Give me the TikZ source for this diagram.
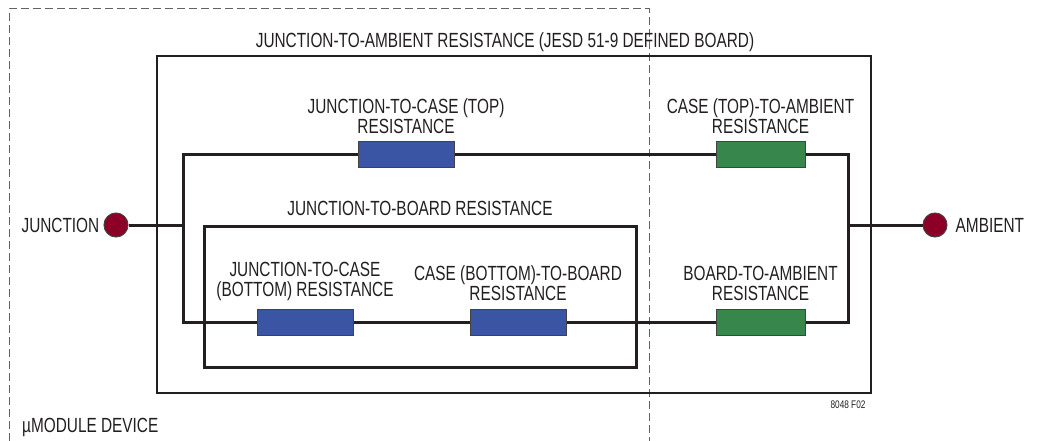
\documentclass[tikz,border=0pt]{standalone}
\usepackage{fontspec}
\setmainfont{Liberation Sans}[FakeStretch=0.75]
\usetikzlibrary{positioning}
\definecolor{ink}{HTML}{231F20}
\definecolor{resblue}{HTML}{3A55A4}
\definecolor{resgreen}{HTML}{37864C}
\definecolor{termred}{HTML}{8C0027}
\tikzset{
	wire/.style={ink,line width=3pt},
	res/.style={draw=ink!85,line width=1pt,minimum height=26pt,inner sep=0pt},
	rblue/.style={res,fill=resblue,minimum width=96pt},
	rgreen/.style={res,fill=resgreen,minimum width=89pt},
	term/.style={circle,draw=ink!85,line width=1pt,fill=termred,minimum size=24pt,inner sep=0pt},
	lbl/.style={text=ink,font=\fontsize{20.5}{20}\selectfont,align=center,inner sep=0pt}
}
\begin{document}
\begin{tikzpicture}[x=1pt,y=-1pt]
	\useasboundingbox (0,0) rectangle (1063,441);
	%boxes
	\draw[ink!70,line width=1pt,dash pattern=on 8pt off 4pt] (9,441) -- (9,9) -- (649,9) -- (649,441);
	\draw[ink,line width=1.4pt] (157,56) rectangle (871,393);
	\draw[ink,line width=3pt] (204,226) rectangle (636,367);
	\node[lbl,anchor=base] (tJA) at (505,48) {JUNCTION-TO-AMBIENT RESISTANCE (JESD 51-9 DEFINED BOARD)};
	\node[lbl,anchor=base] (tJB) at (420,215) {JUNCTION-TO-BOARD RESISTANCE};
	\node[lbl,anchor=base west] (tdev) at (22,432) {µMODULE DEVICE};
	\node[lbl,anchor=base,font=\fontsize{11}{11}\selectfont] (tfig) at (848,408) {8048 F02};
	
	\node[term] (J) at (116,225) {}; \node[term] (A) at (935,225) {};
	\node[lbl,left=4pt of J] (tJ) {JUNCTION}; \node[lbl,right=8pt of A] (tA) {AMBIENT};
	\coordinate (L) at (183,225); \coordinate (R) at (848,225);
	
	\node[rblue] (Rjct) at (406,155) {}; \node[rgreen] (Rca) at (760.5,155) {};
	\node[rblue] (Rjcb) at (305,322) {}; \node[rblue] (Rcb) at (518,322) {}; \node[rgreen] (Rba) at (760.5,322) {};
	
	\draw[wire] (J) -- (L); \draw[wire] (R) -- (A);
	\draw[wire] (Rjct.west) -| (L) |- (Rjcb.west); \draw[wire] (Rca.east) -| (R) |- (Rba.east);
	\draw[wire] (Rjct) -- (Rca); \draw[wire] (Rjcb) -- (Rcb) -- (Rba);
	
	\node[lbl,above=8pt of Rjct] (tjct) {JUNCTION-TO-CASE (TOP)\\RESISTANCE};
	\node[lbl,above=8pt of Rca] (tca) {CASE (TOP)-TO-AMBIENT\\RESISTANCE};
	\node[lbl,above=8pt of Rjcb] (tjcb) {JUNCTION-TO-CASE\\(BOTTOM) RESISTANCE};
	\node[lbl,above=8pt of Rcb] (tcb) {CASE (BOTTOM)-TO-BOARD\\RESISTANCE};
	\node[lbl,above=8pt of Rba] (tba) {BOARD-TO-AMBIENT\\RESISTANCE};
\end{tikzpicture}
\end{document}
